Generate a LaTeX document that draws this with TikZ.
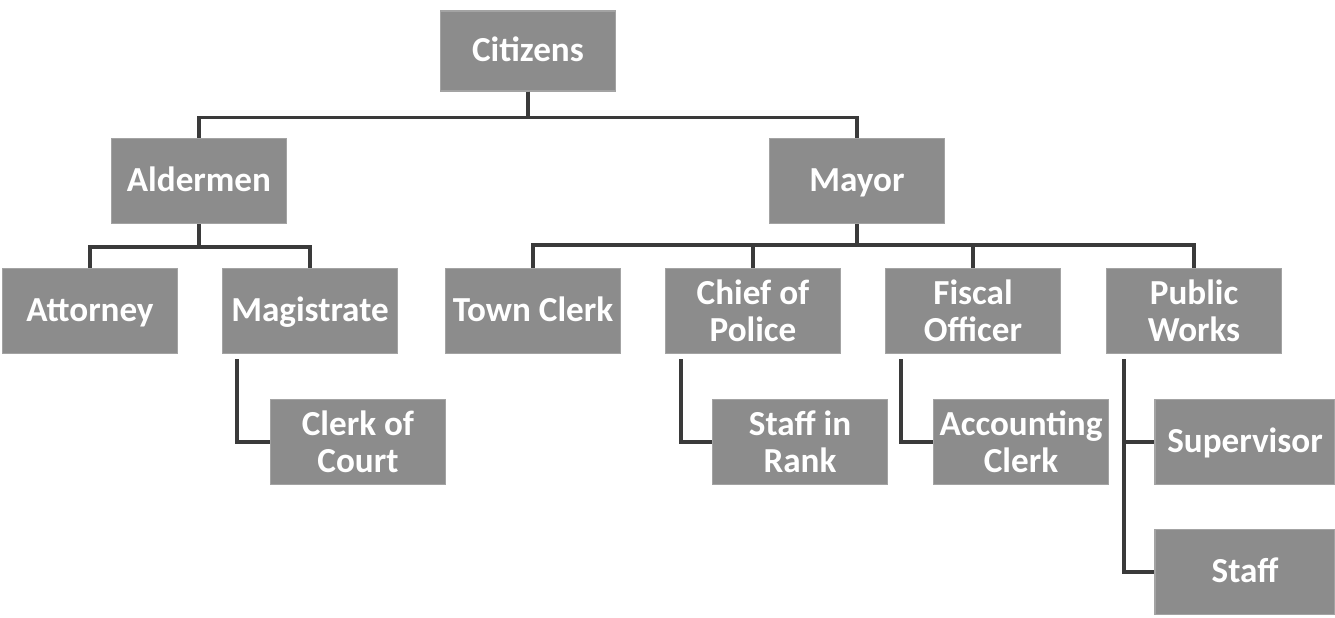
\documentclass[tikz,border=0pt]{standalone}
\usepackage{fontspec}
\setmainfont{Carlito}
\usepackage{tikz,xcolor}
\usetikzlibrary{calc}
\definecolor{boxgray}{HTML}{8C8C8C}
\definecolor{linegray}{HTML}{3A3A3A}
\tikzset{
  % gray box with white bold text
  office/.style={
    fill=boxgray, draw=boxgray!80!white, line width=0.6pt,
    text=white, font=\fontsize{20}{21}\selectfont\bfseries,
    align=center, minimum width=3.5cm, minimum height=1.7cm,
    inner sep=1pt
  },
  % single line boxes share one baseline
  oneline/.style={office, text height=15pt, text depth=3pt},
  % the connecting lines
  link/.style={linegray, line width=2.1pt}
}
\begin{document}
\begin{tikzpicture}
  \useasboundingbox (0,0) rectangle (26.7,-12.36);
  % top levels
  \node[oneline, minimum height=1.6cm] (citizens) at (10.56,-1.02) {Citizens};
  \node[oneline] (aldermen) at (3.98,-3.62) {Aldermen};
  \node[oneline] (mayor) at (17.14,-3.62) {Mayor};
  % third row
  \node[oneline] (attorney) at (1.8,-6.22) {Attorney};
  \node[oneline] (magistrate) at (6.2,-6.22) {Magistrate};
  \node[oneline] (townclerk) at (10.66,-6.22) {Town Clerk};
  \node[office] (chief) at (15.06,-6.22) {Chief of\\Police};
  \node[office] (fiscal) at (19.46,-6.22) {Fiscal\\Officer};
  \node[office] (works) at (23.88,-6.22) {Public\\Works};
  % bottom rows
  \node[office] (clerkcourt) at (7.16,-8.84) {Clerk of\\Court};
  \node[office] (staffrank) at (16.0,-8.84) {Staff in\\Rank};
  \node[office] (accounting) at (20.42,-8.84) {Accounting\\Clerk};
  \node[oneline, minimum width=3.6cm] (supervisor) at (24.9,-8.84) {Supervisor};
  \node[oneline, minimum width=3.6cm] (staff) at (24.9,-11.44) {Staff};
  % Draw the tree lines
  \draw[link] (citizens.south) -- ++(0,-0.52) -| (aldermen.north);
  \draw[link] (citizens.south) -- ++(0,-0.52) -| (mayor.north);
  \foreach \kid in {attorney, magistrate} {
    \draw[link] (aldermen.south) -- ++(0,-0.46) -| (\kid.north);
  }
  \foreach \kid in {townclerk, chief, fiscal, works} {
    \draw[link] (mayor.south) -- ++(0,-0.42) -| (\kid.north);
  }
  % side branches
  \draw[link] ([xshift=0.3cm,yshift=-0.1cm]magistrate.south west) |- (clerkcourt.west);
  \draw[link] ([xshift=0.32cm,yshift=-0.1cm]chief.south west) |- (staffrank.west);
  \draw[link] ([xshift=0.32cm,yshift=-0.1cm]fiscal.south west) |- (accounting.west);
  \draw[link] ([xshift=0.36cm,yshift=-0.1cm]works.south west) |- (supervisor.west);
  \draw[link] ([xshift=0.36cm,yshift=-0.1cm]works.south west) |- (staff.west);
\end{tikzpicture}
\end{document}
